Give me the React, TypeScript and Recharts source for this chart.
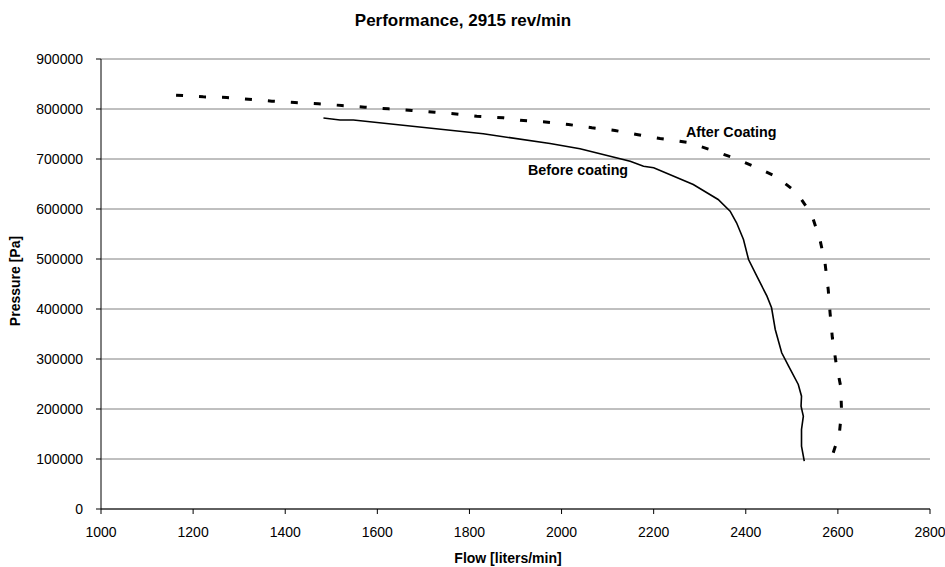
import React from 'react';
import { LineChart, Line, XAxis, YAxis, CartesianGrid } from 'recharts';

const xTicks = [1000, 1200, 1400, 1600, 1800, 2000, 2200, 2400, 2600, 2800];
const yTicks = [0, 100000, 200000, 300000, 400000, 500000, 600000, 700000, 800000, 900000];

const beforeFlow = [1483, 1519, 1548, 1830, 1975, 2040, 2149, 2178, 2200, 2286, 2340, 2366, 2380, 2395, 2406, 2424, 2446, 2456, 2464, 2478, 2493, 2514, 2521, 2520, 2525, 2521, 2521, 2527];
const beforePressure = [782000, 778000, 778000, 750400, 731000, 720400, 695600, 685600, 682400, 649000, 619000, 595600, 572400, 539000, 499000, 465600, 425600, 402400, 359000, 312400, 285600, 249000, 225600, 205600, 185600, 159000, 125600, 95600];

const afterFlow = [1163, 1222, 1273, 1320, 1371, 1421, 1472, 1523, 1573, 1624, 1675, 1725, 1776, 1816, 1874, 1910, 1960, 2015, 2066, 2116, 2163, 2214, 2272, 2322, 2373, 2420, 2467, 2511, 2543, 2561, 2572, 2579, 2583, 2588, 2596, 2606, 2608, 2603, 2585];
const afterPressure = [827600, 824400, 823000, 819600, 815600, 813000, 810400, 807000, 803600, 800400, 797000, 793600, 789600, 785600, 782400, 777600, 774400, 769000, 762400, 757000, 749000, 741000, 733600, 719000, 702400, 684400, 664400, 632400, 589000, 539000, 492400, 439000, 392400, 342400, 292400, 245600, 195600, 149000, 99000];

const beforeData = beforeFlow.map((x, i) => ({ x, y: beforePressure[i] }));
const afterData = afterFlow.map((x, i) => ({ x, y: afterPressure[i] }));

const FONT = '"Liberation Sans", Arial, sans-serif';

export default function App() {
  const tickStyle = { fill: '#000', fontSize: 14, fontFamily: FONT };
  return (
    <div style={{ position: 'absolute', left: 0, top: 0, width: 945, height: 567, background: '#fff' }}>
      <LineChart width={945} height={567} margin={{ top: 59, right: 15, left: 0, bottom: 0 }}>
        <CartesianGrid vertical={false} stroke="#808080" strokeWidth={1} />
        <XAxis
          dataKey="x"
          type="number"
          domain={[1000, 2800]}
          ticks={xTicks}
          allowDataOverflow
          stroke="#000"
          tickSize={5}
          tickMargin={13}
          tick={tickStyle}
          height={58}
        />
        <YAxis
          dataKey="y"
          type="number"
          domain={[0, 900000]}
          ticks={yTicks}
          allowDataOverflow
          stroke="#000"
          tickSize={5}
          tickMargin={13}
          tick={tickStyle}
          width={101}
        />
        <Line
          data={beforeData}
          dataKey="y"
          type="linear"
          stroke="#000"
          strokeWidth={1.6}
          dot={false}
          isAnimationActive={false}
        />
        <Line
          data={afterData}
          dataKey="y"
          type="linear"
          stroke="#000"
          strokeWidth={3}
          strokeDasharray="7 16"
          dot={false}
          isAnimationActive={false}
        />
      </LineChart>
      <svg width={945} height={567} style={{ position: 'absolute', left: 0, top: 0, pointerEvents: 'none' }}>
        <text x={463} y={26} textAnchor="middle" fontFamily={FONT} fontWeight="bold" fontSize={17} fill="#000">
          Performance, 2915 rev/min
        </text>
        <text x={508} y={563} textAnchor="middle" fontFamily={FONT} fontWeight="bold" fontSize={14} fill="#000">
          Flow [liters/min]
        </text>
        <text
          x={0}
          y={0}
          transform="translate(20,281) rotate(-90)"
          textAnchor="middle"
          fontFamily={FONT}
          fontWeight="bold"
          fontSize={14}
          fill="#000"
        >
          Pressure [Pa]
        </text>
        <text x={686} y={137} fontFamily={FONT} fontWeight="bold" fontSize={14.3} fill="#000">
          After Coating
        </text>
        <text x={528} y={175} fontFamily={FONT} fontWeight="bold" fontSize={14.3} fill="#000">
          Before coating
        </text>
      </svg>
    </div>
  );
}
